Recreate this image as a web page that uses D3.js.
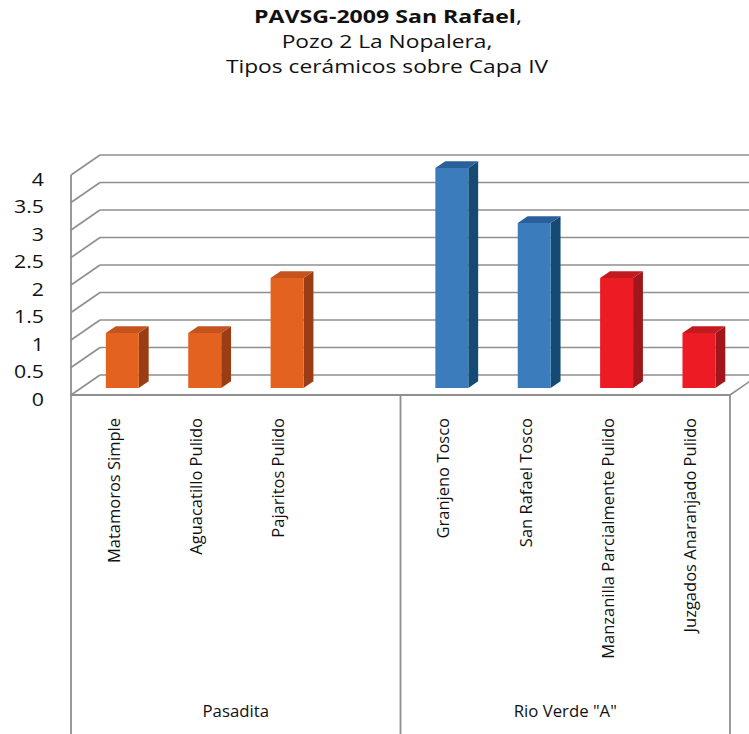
<!DOCTYPE html>
<html><head><meta charset="utf-8">
<script src="https://cdn.jsdelivr.net/npm/d3@7/dist/d3.min.js"></script>
<style>html,body{margin:0;padding:0;background:#fff;} svg{display:block;} text{font-family:"Open Sans",sans-serif;fill:#111;}</style>
</head><body>
<script>
// ---- data ----
const categories = ["Matamoros Simple","Aguacatillo Pulido","Pajaritos Pulido","","Granjeno Tosco","San Rafael Tosco","Manzanilla Parcialmente Pulido","Juzgados Anaranjado Pulido"];
const values = [1,1,2,null,4,3,2,1];
const colorGroup = ["orange","orange","orange","","blue","blue","red","red"];
const groups = ["Pasadita","Rio Verde \"A\""];
const groupSizes = [4,4];
const yTicks = [0,0.5,1,1.5,2,2.5,3,3.5,4];
const titleLines = ["Pozo 2 La Nopalera,","Tipos cerámicos sobre Capa IV"];

// ---- styles ----
const palette = {
  orange:{front:"#E3621F",side:"#9A3D14",top:"#C4531E"},
  blue:{front:"#3B7CBC",side:"#144A73",top:"#2A6099"},
  red:{front:"#EC1B24",side:"#A0161B",top:"#C31A20"}
};
const W=749,H=734;
const svg=d3.select("body").append("svg").attr("width",W).attr("height",H);
svg.append("rect").attr("width",W).attr("height",H).attr("fill","#fff");
function stretch(sel,k){
  sel.each(function(){const L=this.getComputedTextLength();this.setAttribute("textLength",L*k);this.setAttribute("lengthAdjust","spacingAndGlyphs");});
}

const x0=71,x1=730,yBase=395,yTop=175;
const DX=29,DY=-20;
const x=d3.scaleBand().domain(d3.range(categories.length)).range([x0,x1]).padding(0);
const y=d3.scaleLinear().domain([0,4]).range([yBase,yTop]);
const P=(px,py,f)=>[px+DX*f,py+DY*f];
const gridColor="#8f8f8f";

// gridlines: back wall + left wall
const grid=svg.append("g");
yTicks.forEach(v=>{
  const a=P(x0,y(v),1), b=P(x1,y(v),1), c=[x0,y(v)];
  grid.append("line").attr("x1",a[0]).attr("y1",a[1]).attr("x2",b[0]).attr("y2",b[1]).attr("stroke",gridColor).attr("stroke-width",1.6);
  grid.append("line").attr("x1",c[0]).attr("y1",c[1]).attr("x2",a[0]).attr("y2",a[1]).attr("stroke",gridColor).attr("stroke-width",1.6);
});
grid.append("line").attr("x1",x0).attr("y1",y(4)).attr("x2",x0).attr("y2",H).attr("stroke",gridColor).attr("stroke-width",1.8);
grid.append("line").attr("x1",x0).attr("y1",yBase).attr("x2",x1).attr("y2",yBase).attr("stroke",gridColor).attr("stroke-width",1.8);
{const r=P(x1,yBase,1);grid.append("line").attr("x1",x1).attr("y1",yBase).attr("x2",r[0]).attr("y2",r[1]).attr("stroke",gridColor).attr("stroke-width",1.6);}

// y tick labels
svg.append("g").selectAll("text").data(yTicks).join("text")
  .attr("x",44).attr("y",d=>y(d)+3.5).attr("text-anchor","end").attr("dominant-baseline","central")
  .style("font-size","19px").text(d=>d).call(stretch,1.12);

// bars
const f1=0.35,f2=0.69;
const bw=x.bandwidth()*0.4;
const bars=svg.append("g");
categories.forEach((c,i)=>{
  const v=values[i]; if(v==null) return;
  const col=palette[colorGroup[i]];
  const cx=x(i)+x.bandwidth()/2;
  const L=cx-bw/2,R=cx+bw/2;
  const fb=P(L,y(0),f1), ft=P(L,y(v),f1), rb=P(R,y(0),f1), rt=P(R,y(v),f1);
  const bbr=P(R,y(0),f2), btr=P(R,y(v),f2), btl=P(L,y(v),f2);
  const pth=pts=>"M"+pts.map(p=>p.join(",")).join("L")+"Z";
  bars.append("path").attr("d",pth([rb,rt,btr,bbr])).attr("fill",col.side);
  bars.append("path").attr("d",pth([ft,rt,btr,btl])).attr("fill",col.top);
  bars.append("path").attr("d",pth([fb,ft,rt,rb])).attr("fill",col.front);
});

// category table below
const tbl=svg.append("g");
let start=0;
groups.forEach((g,gi)=>{
  const n=groupSizes[gi];
  const gx0=x(start), gx1=x(start+n-1)+x.bandwidth();
  tbl.append("line").attr("x1",gx1).attr("y1",yBase).attr("x2",gx1).attr("y2",H).attr("stroke",gridColor).attr("stroke-width",1.8);
  tbl.append("text").attr("x",(gx0+gx1)/2).attr("y",717).attr("text-anchor","middle").style("font-size","15.5px").text(g).call(stretch,1.08);
  start+=n;
});
tbl.selectAll("text.cat").data(categories).join("text").attr("class","cat")
  .attr("transform",(d,i)=>`translate(${x(i)+x.bandwidth()/2+1},418) rotate(-90)`)
  .attr("text-anchor","end").attr("dominant-baseline","central").style("font-size","16.5px").text(d=>d);

// title
const t=svg.append("g").attr("text-anchor","middle");
const t1=t.append("text").attr("x",388).attr("y",23).style("font-size","17.5px");
t1.append("tspan").style("font-weight","bold").text("PAVSG-2009 San Rafael");
t1.append("tspan").text(",");
t1.call(stretch,1.32);
titleLines.forEach((l,i)=>t.append("text").attr("x",387).attr("y",48+25*i).style("font-size","17.5px").text(l).call(stretch,1.3));
</script>
</body></html>
